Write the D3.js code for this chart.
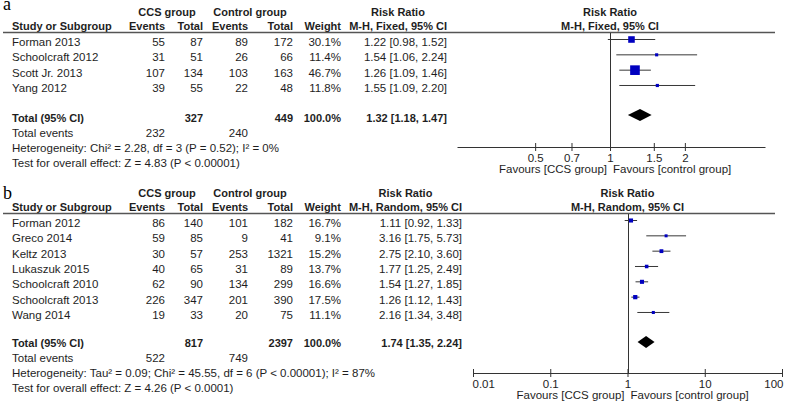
<!DOCTYPE html>
<html><head><meta charset="utf-8">
<script src="https://cdn.jsdelivr.net/npm/d3@7"></script>
<style>
body{margin:0;background:#fff;}
svg{display:block;}
text{font-family:"Liberation Sans",Arial,sans-serif;font-size:11.5px;fill:#1e1e1e;}
.b{font-weight:bold;font-size:11px;}
</style></head><body>
<svg id="c" width="793" height="406"></svg>
<script>
// ---- Panel a data ----
const studiesA = ["Forman 2013","Schoolcraft 2012","Scott Jr. 2013","Yang 2012"];
const ccsEventsA = [55,31,107,39];
const ccsTotalA = [87,51,134,55];
const ctrlEventsA = [89,26,103,22];
const ctrlTotalA = [172,66,163,48];
const weightA = [30.1,11.4,46.7,11.8];
const rrA = [1.22,1.54,1.26,1.55];
const lowA = [0.98,1.06,1.09,1.09];
const highA = [1.52,2.24,1.46,2.20];
const totalA = {ccsTotal:327, ctrlTotal:449, weight:100.0, rr:1.32, low:1.18, high:1.47, ccsEvents:232, ctrlEvents:240};
const hetA = "Heterogeneity: Chi\u00b2 = 2.28, df = 3 (P = 0.52); I\u00b2 = 0%";
const testA = "Test for overall effect: Z = 4.83 (P < 0.00001)";
const methodA = "M-H, Fixed, 95% CI";
const ticksA = [0.5,0.7,1,1.5,2];
const domainA = [0.2425,4.2];

// ---- Panel b data ----
const studiesB = ["Forman 2012","Greco 2014","Keltz 2013","Lukaszuk 2015","Schoolcraft 2010","Schoolcraft 2013","Wang 2014"];
const ccsEventsB = [86,59,30,40,62,226,19];
const ccsTotalB = [140,85,57,65,90,347,33];
const ctrlEventsB = [101,9,253,31,134,201,20];
const ctrlTotalB = [182,41,1321,89,299,390,75];
const weightB = [16.7,9.1,15.2,13.7,16.6,17.5,11.1];
const rrB = [1.11,3.16,2.75,1.77,1.54,1.26,2.16];
const lowB = [0.92,1.75,2.10,1.25,1.27,1.12,1.34];
const highB = [1.33,5.73,3.60,2.49,1.85,1.43,3.48];
const totalB = {ccsTotal:817, ctrlTotal:2397, weight:100.0, rr:1.74, low:1.35, high:2.24, ccsEvents:522, ctrlEvents:749};
const hetB = "Heterogeneity: Tau\u00b2 = 0.09; Chi\u00b2 = 45.55, df = 6 (P < 0.00001); I\u00b2 = 87%";
const testB = "Test for overall effect: Z = 4.26 (P < 0.0001)";
const methodB = "M-H, Random, 95% CI";
const ticksB = [0.01,0.1,1,10,100];
const domainB = [0.01,100];

const favLeft = "Favours [CCS group]";
const favRight = "Favours [control group]";

const svg = d3.select("#c");
const f2 = d3.format(".2f");
const sizeScale = d3.scaleLinear().domain([0,100]).range([1,19.5]);

function drawPanel(cfg){
  const g = svg.append("g").attr("transform",`translate(0,${cfg.oy})`);
  const n = cfg.studies.length;
  const rowY = d3.scaleLinear().domain([0,n-1]).range([39, 39 + (n-1)*15.33]);
  const totY = rowY(n-1) + 30;
  const x = d3.scaleLog().domain(cfg.domain).range(cfg.xr);
  const cols = {ce:165, ct:203, xe:248, xt:293, w:341, ci:cfg.ciRight};

  // panel letter
  g.append("text").attr("x",3).attr("y",cfg.letterY).style("font-family","'Liberation Serif',serif").style("font-size","18px").style("fill","#000").text(cfg.letter);

  // headers
  const h1 = 16, h2 = 30;
  g.append("text").attr("class","b").attr("x",167).attr("y",h1).attr("text-anchor","middle").text("CCS group");
  g.append("text").attr("class","b").attr("x",250).attr("y",h1).attr("text-anchor","middle").text("Control group");
  const ciLeft = 349;
  g.append("text").attr("class","b").attr("x",(ciLeft+cols.ci)/2).attr("y",h1).attr("text-anchor","middle").text("Risk Ratio");
  g.append("text").attr("class","b").attr("x",x(1)).attr("y",h1).attr("text-anchor","middle").text("Risk Ratio");
  g.append("text").attr("class","b").attr("x",12).attr("y",h2).text("Study or Subgroup");
  g.append("text").attr("class","b").attr("x",cols.ce).attr("y",h2).attr("text-anchor","end").text("Events");
  g.append("text").attr("class","b").attr("x",cols.ct).attr("y",h2).attr("text-anchor","end").text("Total");
  g.append("text").attr("class","b").attr("x",212).attr("y",h2).text("Events");
  g.append("text").attr("class","b").attr("x",cols.xt).attr("y",h2).attr("text-anchor","end").text("Total");
  g.append("text").attr("class","b").attr("x",cols.w).attr("y",h2).attr("text-anchor","end").text("Weight");
  g.append("text").attr("class","b").attr("x",cols.ci).attr("y",h2).attr("text-anchor","end").text(cfg.method);
  g.append("text").attr("class","b").attr("x",x(1)).attr("y",h2).attr("text-anchor","middle").text(cfg.method);
  g.append("line").attr("x1",3).attr("x2",775).attr("y1",32.5).attr("y2",32.5).attr("stroke","#555").attr("stroke-width",1.5);

  // rows
  cfg.studies.forEach((s,i)=>{
    const yb = rowY(i) + 7;
    g.append("text").attr("x",12).attr("y",yb).text(s);
    g.append("text").attr("x",cols.ce).attr("y",yb).attr("text-anchor","end").text(cfg.ce[i]);
    g.append("text").attr("x",cols.ct).attr("y",yb).attr("text-anchor","end").text(cfg.ct[i]);
    g.append("text").attr("x",cols.xe).attr("y",yb).attr("text-anchor","end").text(cfg.xe[i]);
    g.append("text").attr("x",cols.xt).attr("y",yb).attr("text-anchor","end").text(cfg.xt[i]);
    g.append("text").attr("x",cols.w).attr("y",yb).attr("text-anchor","end").text(cfg.w[i].toFixed(1)+"%");
    g.append("text").attr("x",cols.ci).attr("y",yb).attr("text-anchor","end").text(`${f2(cfg.rr[i])} [${f2(cfg.lo[i])}, ${f2(cfg.hi[i])}]`);
  });
  // total
  const tb = totY + cfg.footOff;
  g.append("text").attr("class","b").attr("x",12).attr("y",tb).text("Total (95% CI)");
  g.append("text").attr("class","b").attr("x",cols.ct).attr("y",tb).attr("text-anchor","end").text(cfg.tot.ccsTotal);
  g.append("text").attr("class","b").attr("x",cols.xt).attr("y",tb).attr("text-anchor","end").text(cfg.tot.ctrlTotal);
  g.append("text").attr("class","b").attr("x",cols.w).attr("y",tb).attr("text-anchor","end").text(cfg.tot.weight.toFixed(1)+"%");
  g.append("text").attr("class","b").attr("x",cols.ci).attr("y",tb).attr("text-anchor","end").text(`${f2(cfg.tot.rr)} [${f2(cfg.tot.low)}, ${f2(cfg.tot.high)}]`);
  g.append("text").attr("x",12).attr("y",tb+15).text("Total events");
  g.append("text").attr("x",cols.ce).attr("y",tb+15).attr("text-anchor","end").text(cfg.tot.ccsEvents);
  g.append("text").attr("x",cols.xe).attr("y",tb+15).attr("text-anchor","end").text(cfg.tot.ctrlEvents);
  g.append("text").attr("x",12).attr("y",tb+30).text(cfg.het);
  g.append("text").attr("x",12).attr("y",tb+45).text(cfg.test);

  // plot
  const axisY = cfg.axisY;
  g.append("line").attr("x1",Math.round(x(1))+0.5).attr("x2",Math.round(x(1))+0.5).attr("y1",33).attr("y2",axisY).attr("stroke","#333").attr("stroke-width",1);
  cfg.studies.forEach((s,i)=>{
    const y = rowY(i);
    g.append("line").attr("x1",x(cfg.lo[i])).attr("x2",x(cfg.hi[i])).attr("y1",y+0.5).attr("y2",y+0.5).attr("stroke","#383838").attr("stroke-width",1);
    const sz = Math.max(3, sizeScale(cfg.w[i]));
    g.append("rect").attr("x",x(cfg.rr[i])-sz/2).attr("y",y+0.5-sz/2).attr("width",sz).attr("height",sz).attr("fill","#0000c0");
  });
  const dh = 6;
  g.append("path").attr("d",`M${x(cfg.tot.low)},${totY}L${x(cfg.tot.rr)},${totY-dh}L${x(cfg.tot.high)},${totY}L${x(cfg.tot.rr)},${totY+dh}Z`).attr("fill","#000");

  const ax = g.append("g").attr("transform",`translate(0,${axisY})`)
    .call(d3.axisBottom(x).tickValues(cfg.ticks).tickFormat(d=>String(d)).tickSize(4).tickSizeOuter(0));
  ax.select(".domain").attr("stroke","#333");
  ax.selectAll(".tick line").attr("y1",-4).attr("y2",4).attr("stroke","#333");
  ax.selectAll(".tick text").attr("y",15).attr("dy",null).style("font-family","'Liberation Sans',Arial,sans-serif").style("font-size","11.5px").attr("fill","#1e1e1e");
  if(cfg.endAlign){
    const tt = ax.selectAll(".tick text").nodes();
    d3.select(tt[0]).attr("text-anchor","start").attr("dx",-1);
    d3.select(tt[tt.length-1]).attr("text-anchor","end").attr("dx",1);
  }
  g.append("text").attr("x",x(1)-3).attr("y",axisY+26).attr("text-anchor","end").attr("fill","#333").text(favLeft);
  g.append("text").attr("x",x(1)+3).attr("y",axisY+26).attr("fill","#333").text(favRight);
}

drawPanel({oy:0, letter:"a", letterY:10, studies:studiesA, ce:ccsEventsA, ct:ccsTotalA, xe:ctrlEventsA, xt:ctrlTotalA, w:weightA, rr:rrA, lo:lowA, hi:highA, tot:totalA, het:hetA, test:testA, method:methodA, ticks:ticksA, domain:domainA, xr:[457,765], ciRight:447, axisY:147, endAlign:false, footOff:7});
drawPanel({oy:181, letter:"b", letterY:18, studies:studiesB, ce:ccsEventsB, ct:ccsTotalB, xe:ctrlEventsB, xt:ctrlTotalB, w:weightB, rr:rrB, lo:lowB, hi:highB, tot:totalB, het:hetB, test:testB, method:methodB, ticks:ticksB, domain:domainB, xr:[473,782], ciRight:462, axisY:192, endAlign:true, footOff:5});
</script>
</body></html>
